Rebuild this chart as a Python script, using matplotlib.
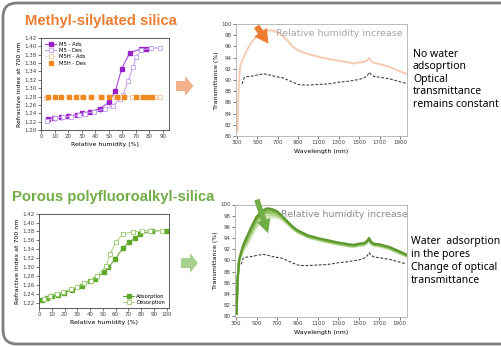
import matplotlib.pyplot as plt
from matplotlib.patches import FancyBboxPatch, Polygon

# refractive index at 700 nm vs relative humidity, methyl-silylated silica
m5_ads_rh = [4.9, 9.8, 14.7, 20.1, 26.5, 30.4, 36.0, 43.6, 50.0, 54.9, 59.6, 65.7, 74.0, 77.5]
m5_ads_n = [1.227, 1.229, 1.231, 1.233, 1.237, 1.240, 1.244, 1.251, 1.266, 1.293, 1.347, 1.385, 1.394, 1.394]
m5_des_rh = [4.2, 10.0, 16.4, 22.0, 28.0, 32.6, 39.0, 47.0, 53.0, 58.4, 60.6, 64.2, 68.0, 70.4, 74.0, 81.4, 87.5]
m5_des_n = [1.222, 1.228, 1.232, 1.232, 1.236, 1.239, 1.244, 1.250, 1.258, 1.274, 1.284, 1.316, 1.351, 1.375,
            1.391, 1.396, 1.396]
m5h_ads_rh = [4, 10, 15, 21, 27, 31, 37, 45, 50, 55, 60, 67, 74, 80, 84, 88]
m5h_ads_n = [1.277, 1.278, 1.279, 1.279, 1.279, 1.279, 1.279, 1.279, 1.279, 1.279, 1.280, 1.280, 1.280, 1.280,
             1.280, 1.280]
m5h_des_rh = [5, 10, 15, 21, 26, 31, 37, 44, 50, 56, 61, 70, 75, 79, 82]
m5h_des_n = [1.280, 1.280, 1.280, 1.280, 1.280, 1.280, 1.280, 1.280, 1.280, 1.280, 1.280, 1.280, 1.280, 1.280,
             1.280]

# porous polyfluoroalkyl-silica
pf_ads_rh = [2.1, 6.0, 10.4, 15.1, 19.8, 25.6, 33.4, 40.0, 43.9, 50.9, 54.3, 59.5, 65.5, 70.8, 75.2, 79.1, 88.3, 99.2]
pf_ads_n = [1.225, 1.230, 1.235, 1.237, 1.242, 1.248, 1.257, 1.269, 1.274, 1.288, 1.299, 1.317, 1.342, 1.356,
            1.365, 1.374, 1.381, 1.382]
pf_des_rh = [3.9, 8.6, 13.8, 19.0, 24.8, 30.0, 35.2, 40.5, 45.2, 52.5, 55.6, 60.3, 65.5, 73.4, 80.4, 87.0, 96.0]
pf_des_n = [1.228, 1.235, 1.239, 1.244, 1.251, 1.254, 1.263, 1.269, 1.280, 1.302, 1.329, 1.357, 1.374, 1.379,
            1.381, 1.382, 1.382]

# transmittance spectra
wl = [305, 315, 330, 350, 375, 400, 450, 500, 550, 600, 650, 700, 750, 800, 850, 900, 1000, 1100, 1200, 1300,
      1400, 1450, 1500, 1550, 1580, 1600, 1620, 1650, 1700, 1800, 1900, 1960]
m5_spec_a = [81.0, 88.0, 92.5, 93.5, 94.5, 95.5, 97.0, 98.0, 98.6, 98.9, 98.9, 98.6, 97.9, 97.0, 96.0, 95.3,
             94.7, 94.2, 93.8, 93.5, 93.2, 93.0, 93.2, 93.3, 93.6, 94.0, 93.4, 93.1, 92.9, 92.4, 91.6, 91.2]
m5_spec_b = [80.8, 87.8, 92.3, 93.4, 94.4, 95.4, 96.9, 97.9, 98.5, 98.8, 98.8, 98.5, 97.8, 96.9, 95.9, 95.2,
             94.6, 94.1, 93.7, 93.4, 93.1, 92.9, 93.1, 93.2, 93.5, 93.9, 93.3, 93.0, 92.8, 92.3, 91.5, 91.1]
pf_spec = [
    [80.5, 86.5, 90.0, 90.8, 91.9, 92.5, 94.3, 96.0, 97.0, 97.5, 97.7, 97.7, 97.3, 96.5, 95.7, 95.0,
     94.1, 93.6, 93.2, 92.8, 92.5, 92.4, 92.6, 92.7, 93.1, 93.6, 92.9, 92.6, 92.5, 92.0, 91.2, 90.7],
    [80.5, 86.5, 90.0, 91.0, 92.2, 92.9, 94.8, 96.5, 97.5, 98.0, 98.1, 98.0, 97.5, 96.7, 95.8, 95.1,
     94.2, 93.7, 93.3, 92.9, 92.6, 92.5, 92.7, 92.8, 93.2, 93.7, 93.0, 92.7, 92.6, 92.1, 91.3, 90.8],
    [80.5, 86.5, 90.0, 91.2, 92.5, 93.3, 95.2, 97.0, 98.0, 98.5, 98.5, 98.3, 97.7, 96.8, 95.9, 95.2,
     94.3, 93.8, 93.4, 93.0, 92.7, 92.6, 92.8, 92.9, 93.3, 93.8, 93.1, 92.8, 92.7, 92.2, 91.4, 90.9],
    [80.5, 86.5, 90.0, 91.4, 92.8, 93.7, 95.6, 97.4, 98.4, 98.9, 98.9, 98.6, 97.9, 96.9, 96.0, 95.3,
     94.4, 93.9, 93.5, 93.1, 92.8, 92.7, 92.9, 93.0, 93.4, 93.9, 93.2, 92.9, 92.8, 92.3, 91.5, 91.0],
    [80.5, 86.5, 90.0, 91.5, 93.0, 94.0, 96.0, 97.8, 98.8, 99.3, 99.2, 98.8, 98.0, 97.0, 96.1, 95.4,
     94.5, 94.0, 93.6, 93.2, 92.9, 92.8, 93.0, 93.1, 93.5, 94.0, 93.3, 93.0, 92.9, 92.4, 91.6, 91.1],
]
pf_colors = ["#d3e7ba", "#b6d792", "#98c66c", "#7ab24a", "#5e982f"]
ref_wl = [350, 370, 400, 450, 500, 560, 620, 680, 750, 800, 850, 900, 950, 1000, 1100, 1200, 1300, 1400, 1500,
          1550, 1580, 1600, 1620, 1650, 1700, 1800, 1900, 1960]
ref_t = [89.3, 90.4, 90.6, 90.7, 90.9, 91.1, 90.9, 90.6, 90.4, 90.0, 89.6, 89.2, 89.1, 89.1, 89.2, 89.3, 89.6,
         89.8, 90.1, 90.4, 90.8, 91.4, 90.9, 90.6, 90.5, 90.2, 89.7, 89.4]

W, H = 502, 347
ORANGE = "#ED7D31"
GREEN = "#70AD47"
TICK = 4
LAB = 4.5


def px_axes(fig, x0, y0, x1, y1):
    return fig.add_axes([x0 / W, 1 - y1 / H, (x1 - x0) / W, (y1 - y0) / H])


def style(ax, color="#404040"):
    for s in ax.spines.values():
        s.set_linewidth(0.6)
        s.set_color(color)
    ax.tick_params(direction="out", length=2, width=0.5, pad=1, labelsize=TICK, colors="#404040")


fig = plt.figure(figsize=(W / 100, H / 100), dpi=100)

# top-left: refractive index, methyl-silylated
ax1 = px_axes(fig, 41, 38, 169, 130)
ax1.plot(m5_ads_rh, m5_ads_n, "-s", color="#a64ae0", mfc="#9a20c8", mec="#9a20c8", ms=2.5, lw=0.8,
         label="M5 - Ads")
ax1.plot(m5_des_rh, m5_des_n, "-s", color="#c9a3f0", mfc="white", mec="#c19af0", ms=3, lw=0.8, mew=0.6,
         label="M5 - Des")
ax1.plot(m5h_ads_rh, m5h_ads_n, "-s", color="#f8dcc4", mfc="white", mec="#f5c49a", ms=3, lw=0.5, mew=0.6,
         label="M5H - Ads")
ax1.plot(m5h_des_rh, m5h_des_n, "s", color="#f08a20", ms=2.5, label="M5H - Des")
ax1.set_xlim(0, 94.5)
ax1.set_ylim(1.20, 1.42)
ax1.set_xticks(range(0, 91, 10))
ax1.set_yticks([1.20 + 0.02 * i for i in range(12)])
ax1.yaxis.set_major_formatter("{x:.2f}")
ax1.set_xlabel("Relative humidity (%)", fontsize=LAB, labelpad=2)
ax1.set_ylabel("Refractive index at 700 nm", fontsize=LAB, labelpad=2)
style(ax1)
ax1.legend(loc="upper left", fontsize=3.8, frameon=False, handlelength=2.2, labelspacing=0.25,
           borderaxespad=0.3, handletextpad=0.5)

# bottom-left: refractive index, polyfluoroalkyl-silica
ax2 = px_axes(fig, 39, 213.7, 169, 308.3)
ax2.plot(pf_ads_rh, pf_ads_n, "-s", color="#5f9e30", mfc="#5fa82a", mec="#5fa82a", ms=2.5, lw=0.7,
         label="Adsorption")
ax2.plot(pf_des_rh, pf_des_n, "-s", color="#a6d07a", mfc="white", mec="#96c865", ms=3, lw=0.7, mew=0.6,
         label="Desorption")
ax2.set_xlim(0, 101.8)
ax2.set_ylim(1.207, 1.42)
ax2.set_xticks(range(0, 101, 10))
ax2.set_yticks([1.22 + 0.02 * i for i in range(11)])
ax2.yaxis.set_major_formatter("{x:.2f}")
ax2.set_xlabel("Relative humidity (%)", fontsize=LAB, labelpad=2)
ax2.set_ylabel("Refractive index at 700 nm", fontsize=LAB, labelpad=2)
style(ax2)
ax2.legend(loc="lower right", fontsize=3.8, frameon=False, handlelength=2.2, labelspacing=0.2,
           borderaxespad=0.3, handletextpad=0.4)

# spectra
ax3 = px_axes(fig, 236, 24, 407, 136)
ax4 = px_axes(fig, 235, 204.5, 407, 316.5)
ax3.plot(wl, m5_spec_b, color="#f8d8c6", lw=1.4)
ax3.plot(wl, m5_spec_a, color="#f5c7ac", lw=0.8)
for vals, c in zip(pf_spec, pf_colors):
    ax4.plot(wl, vals, color=c, lw=1.6)
for ax in (ax3, ax4):
    ax.plot(ref_wl, ref_t, color="#404040", lw=0.8, ls=(0, (2.5, 1.5)))
    ax.set_xlim(290, 1970)
    ax.set_ylim(80, 100)
    ax.set_xticks(range(300, 1901, 200))
    ax.set_yticks(range(80, 101, 2))
    ax.set_xlabel("Wavelength (nm)", fontsize=LAB, labelpad=3)
    ax.set_ylabel("Transmittance (%)", fontsize=LAB, labelpad=2)
    style(ax, "#b0b0b0")

# overlay in pixel coordinates for frame, titles, arrows and notes
ov = fig.add_axes([0, 0, 1, 1])
ov.set_xlim(0, W)
ov.set_ylim(H, 0)
ov.axis("off")
ov.patch.set_visible(False)

ov.add_patch(FancyBboxPatch((3, 3), 520, 341, boxstyle="round,pad=0,rounding_size=14",
                            fc="none", ec="#7f7f7f", lw=2))

ov.text(25, 25, "Methyl-silylated silica", color=ORANGE, fontsize=10.7, fontweight="bold",
        family="Liberation Sans")
ov.text(12, 201, "Porous polyfluoroalkyl-silica", color=GREEN, fontsize=10.7, fontweight="bold",
        family="Liberation Sans")

ov.text(276, 36, "Relative humidity increase", color="#a6a6a6", fontsize=6.8)
ov.text(281, 216.5, "Relative humidity increase", color="#8c8c8c", fontsize=6.8)

ov.annotate("", xy=(270, 46), xytext=(255, 24),
            arrowprops=dict(arrowstyle="simple,head_width=1.1,head_length=1.0,tail_width=0.45",
                            fc=ORANGE, ec="none"))
ov.annotate("", xy=(269, 236), xytext=(256, 197),
            arrowprops=dict(arrowstyle="simple,head_width=1.0,head_length=1.0,tail_width=0.4",
                            fc=GREEN, ec="none"))

ov.add_patch(Polygon([(176, 81), (185, 81), (185, 76), (193.5, 86), (185, 96), (185, 91), (176, 91)],
                     closed=True, fc="#F4B08C", ec="none"))
ov.add_patch(Polygon([(181, 258), (190, 258), (190, 253), (198, 263), (190, 273), (190, 268), (181, 268)],
                     closed=True, fc="#A9D18E", ec="none"))

top_note = ["No water", "adsoprtion", "Optical", "transmittance", "remains constant"]
for i, line in enumerate(top_note):
    ov.text(413, 56.5 + 12.5 * i, line, fontsize=7.5, family="Noto Sans", color="black")
bot_note = ["Water  adsorption", "in the pores", "Change of optical", "transmittance"]
for i, line in enumerate(bot_note):
    ov.text(411, 244 + 13 * i, line, fontsize=7.5, family="Noto Sans", color="black")

fig.savefig("out.png", dpi=100)
